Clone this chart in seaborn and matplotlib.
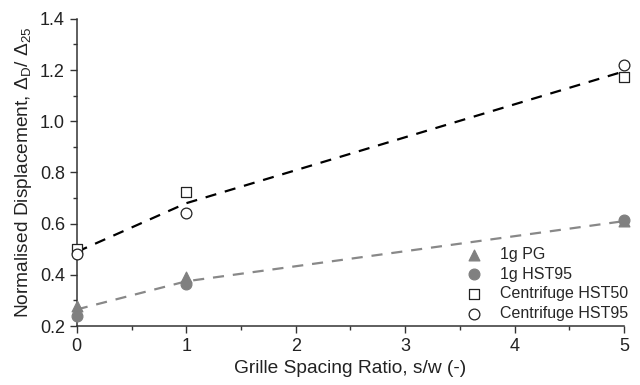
import pandas as pd
import matplotlib.pyplot as plt
from matplotlib.ticker import MultipleLocator
import seaborn as sns

# spacing ratio s/w
spacing = [0, 1, 5]

# normalised displacement values
pg_1g = [0.28, 0.39, 0.61]
hst95_1g = [0.24, 0.365, 0.615]
hst50_cf = [0.50, 0.725, 1.172]
hst95_cf = [0.48, 0.64, 1.218]

# dashed trend lines
trend_1g = [0.265, 0.375, 0.61]
trend_cf = [0.49, 0.68, 1.195]

labels = ['1g PG', '1g HST95', 'Centrifuge HST50', 'Centrifuge HST95']

sns.set_style('ticks')
plt.rcParams['font.family'] = ['Liberation Sans', 'DejaVu Sans']
plt.rcParams['mathtext.fontset'] = 'custom'
plt.rcParams['mathtext.rm'] = 'Liberation Sans'
plt.rcParams['mathtext.it'] = 'Liberation Sans'

fig = plt.figure(figsize=(6.4, 3.85), dpi=100)
ax = fig.add_axes([0.12, 0.153, 0.855, 0.798])

sns.lineplot(x=spacing, y=trend_1g, ax=ax, color='#888888', linestyle=(0, (5, 4)), linewidth=1.6)
sns.lineplot(x=spacing, y=trend_cf, ax=ax, color='black', linestyle=(0, (5, 4)), linewidth=1.6)

series = [
    (pg_1g, '^', '#808080', '#808080'),
    (hst95_1g, 'o', '#808080', '#808080'),
    (hst50_cf, 's', 'white', '#222222'),
    (hst95_cf, 'o', 'white', '#222222'),
]
for (vals, mk, fc, ec), lab in zip(series, labels):
    sns.scatterplot(x=spacing, y=vals, ax=ax, marker=mk, s=60, facecolor=fc,
                    edgecolor=ec, linewidth=0.9, label=lab, zorder=3, clip_on=False)

ax.set_xlim(0, 5)
ax.set_ylim(0.2, 1.4)
ax.xaxis.set_major_locator(MultipleLocator(1))
ax.xaxis.set_minor_locator(MultipleLocator(0.5))
ax.yaxis.set_major_locator(MultipleLocator(0.2))
ax.yaxis.set_minor_locator(MultipleLocator(0.1))
ax.yaxis.set_major_formatter(plt.FormatStrFormatter('%.1f'))
ax.tick_params(which='major', length=5, width=1, labelsize=13, color='#333333',
               labelcolor='#222222')
ax.tick_params(which='minor', length=3, width=1, color='#333333')
for sp in ['left', 'bottom']:
    ax.spines[sp].set_color('#333333')
    ax.spines[sp].set_linewidth(1.1)
sns.despine(ax=ax)

ax.set_xlabel('Grille Spacing Ratio, s/w (-)', fontsize=13.8, color='#222222')
ax.set_ylabel(r'Normalised Displacement, $\Delta_\mathrm{D}$/ $\Delta_{25}$', fontsize=13.8,
              color='#222222')

ax.legend(loc='lower right', bbox_to_anchor=(1.025, -0.015), frameon=False, fontsize=11.5,
          handletextpad=0.6, labelspacing=0.3, borderaxespad=0.2)

fig.savefig('out.png', dpi=100)
